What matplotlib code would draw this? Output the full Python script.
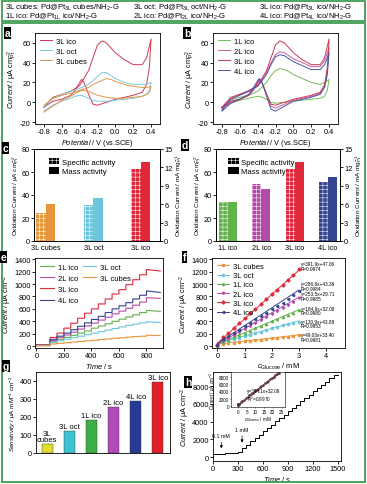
import matplotlib
matplotlib.use('Agg')
import matplotlib.pyplot as plt
import numpy as np
from matplotlib.patches import Rectangle, Patch
from matplotlib.lines import Line2D

plt.rcParams['font.family'] = ['Liberation Sans', 'DejaVu Sans']
plt.rcParams['font.size'] = 5.3
plt.rcParams['mathtext.fontset'] = 'custom'
plt.rcParams['mathtext.rm'] = 'Liberation Sans'
plt.rcParams['mathtext.it'] = 'Liberation Sans:italic'
plt.rcParams['mathtext.bf'] = 'Liberation Sans:bold'
plt.rcParams['axes.unicode_minus'] = False
plt.rcParams['axes.linewidth'] = 0.6
for a in ['xtick', 'ytick']:
    plt.rcParams[a + '.major.width'] = 0.6
    plt.rcParams[a + '.major.size'] = 2
    plt.rcParams[a + '.major.pad'] = 1.0
    plt.rcParams[a + '.labelsize'] = 5.3
plt.rcParams['hatch.linewidth'] = 0.35

# ---- data ----
# cyclic voltammograms (forward then reverse scan)
cv_E = [-0.8, -0.7, -0.6, -0.5, -0.4, -0.3, -0.25, -0.2, -0.15, -0.1, -0.05, 0.0, 0.1, 0.2, 0.3, 0.35, 0.4,
        0.38, 0.35, 0.3, 0.2, 0.1, 0.0, -0.1, -0.2, -0.25, -0.3, -0.35, -0.38, -0.4, -0.45, -0.5, -0.6, -0.7, -0.8]
cv_3L_ico = [-5, 5, 8, 11, 17, 32, 45, 58, 62, 60, 55, 50, 43, 38, 38, 45, 64,
             35, 18, 10, 7, 5, 3, 0, -3, -2, 8, 20, 23, 20, 12, 7, 3, 1, -5]
cv_3L_oct = [-5, 4, 8, 11, 14, 18, 22, 26, 30, 30, 27, 24, 20, 18, 18, 18, 20,
             12, 8, 6, 4, 3, 2, 1, 1, 2, 4, 6, 7, 7, 6, 4, 1, -3, -9]
cv_3L_cubes = [-3, 4, 7, 9, 12, 15, 18, 20, 22, 24, 23, 21, 18, 16, 15, 15, 16,
               10, 8, 6, 5, 4, 4, 5, 7, 9, 11, 12, 12, 11, 9, 6, 2, -4, -10]
cv_1L_ico = [-5, 2, 5, 7, 11, 20, 27, 32, 34, 33, 31, 28, 24, 20, 18, 20, 23,
             12, 6, 4, 3, 2, 1, 0, -1, 0, 3, 5, 6, 6, 5, 4, 2, -1, -5]
cv_2L_ico = [-6, 4, 8, 12, 17, 30, 40, 48, 51, 50, 47, 44, 40, 36, 36, 42, 55,
             30, 16, 9, 6, 4, 2, -2, -6, -4, 8, 19, 22, 20, 12, 7, 3, 0, -6]
cv_4L_ico = [-8, 3, 7, 11, 16, 28, 38, 46, 48, 47, 44, 41, 37, 33, 33, 38, 50,
             28, 15, 8, 5, 3, 1, -4, -9, -7, 6, 20, 24, 22, 14, 8, 3, -1, -9]

# activities
c_names = ['3L cubes', '3L oct', '3L ico']
c_specific = [24, 31, 63]
c_mass = [6.1, 7.0, 12.8]
d_names = ['1L ico', '2L ico', '3L ico', '4L ico']
d_specific = [34, 50, 63, 51]
d_mass = [6.4, 8.5, 12.8, 10.5]

# amperometric responses (0.2 mM additions)
e_times = [0, 100, 150, 200, 250, 300, 350, 400, 450, 500, 550, 600, 650, 700, 750, 800]
e_conc = [0, 0.2, 0.4, 0.6, 0.8, 1.0, 1.2, 1.4, 1.6, 1.8, 2.0, 2.2, 2.4, 2.6, 2.8, 3.0]
e_1L_ico = [10, 70, 105, 140, 175, 210, 245, 290, 325, 360, 400, 435, 470, 505, 540, 575]
e_2L_ico = [15, 90, 135, 180, 225, 275, 325, 370, 420, 465, 520, 565, 610, 660, 710, 780]
e_3L_ico = [20, 140, 210, 290, 370, 450, 530, 600, 680, 760, 840, 910, 990, 1070, 1150, 1235]
e_4L_ico = [15, 110, 160, 210, 265, 320, 375, 430, 480, 540, 600, 650, 700, 760, 820, 890]
e_3L_oct = [10, 60, 85, 110, 135, 160, 185, 210, 235, 260, 285, 310, 335, 355, 375, 395]
e_3L_cubes = [5, 35, 45, 55, 65, 75, 85, 95, 105, 115, 125, 135, 145, 155, 160, 175]
e_end = {'1L ico': 560, '2L ico': 770, '3L ico': 1210, '4L ico': 865, '3L oct': 380, '3L cubes': 170}

# linear fits shown in f
f_names = ['3L cubes', '3L oct', '1L ico', '2L ico', '3L ico', '4L ico']
f_slope = [49.03, 120.9, 184.9, 253.5, 391.9, 286.6]
f_icpt = [33.40, 43.89, 32.08, 29.71, 47.06, 43.36]
f_R = ['0.9981', '0.9953', '0.9980', '0.9985', '0.9974', '0.9984']

# sensitivities
g_names = ['3L\ncubes', '3L oct', '1L ico', '2L ico', '4L ico', '3L ico']
g_sens = [49, 121, 185, 253, 287, 392]

# long-range response of 3L ico
h_times = [0, 100, 150, 200, 250, 300, 350, 400, 450, 500, 550, 600, 650, 700, 750, 800, 850, 900,
           950, 1000, 1050, 1100, 1150, 1200, 1250, 1300, 1350, 1400, 1450]
h_conc = [0, 0.1, 0.2, 0.3, 0.4, 0.5, 1.5, 2.5, 3.5, 4.5, 5.5, 6.5, 7.5, 8.5, 9.5, 10.5, 11.5, 12.5,
          13.5, 14.5, 15.5, 16.5, 17.5, 18.5, 19.5, 20.5, 21.5, 22.5, 23.5]
h_levels = [350, 390, 420, 460, 500, 540, 1000, 1380, 1760, 2140, 2520, 2890, 3270, 3650, 4020, 4400,
            4780, 5150, 5530, 5900, 6280, 6650, 7030, 7400, 7780, 8150, 8520, 8900, 9250]

col = {'3L cubes': '#e8963a', '3L oct': '#6cc6dc', '3L ico': '#e02a3c', '1L ico': '#62b24a',
       '2L ico': '#b44aa8', '4L ico': '#34448e'}
col_cv = {'3L ico': '#d23a55', '3L oct': '#7cc8e0', '3L cubes': '#e09848', '1L ico': '#78bc58',
          '2L ico': '#cc5c9c', '4L ico': '#4a54a8'}
g_colors = ['#e4dc2c', '#3cc4d4', '#3cae44', '#b04cb8', '#263a96', '#e02026']

W, H = 367, 485
fig = plt.figure(figsize=(W / 100, H / 100), dpi=100)


def add_ax(l, t, r, b):
    return fig.add_axes([l / W, 1 - b / H, (r - l) / W, (b - t) / H])


def tag(x, y, s):
    fig.text(x / W, 1 - y / H, s, color='white', fontsize=7.5, fontweight='bold', ha='left', va='top',
             bbox=dict(facecolor='black', edgecolor='none', pad=0.5))


def stairs(times, levels, t_end, end_level):
    xs, ys = [], []
    for i in range(len(times)):
        xs.append(times[i])
        ys.append(levels[i])
        if i + 1 < len(times):
            xs.append(times[i + 1])
            ys.append(levels[i])
    xs.append(t_end)
    ys.append(end_level)
    return xs, ys


cur_pt = r'$\it{Current}$ / μA cm$^{-2}_{\rm Pt}$'
pot_lab = r'$\it{Potential}$ / V (vs.SCE)'

# frames and header
fig.patches.append(Rectangle((2 / W, 1 - 22 / H), 363 / W, 20 / H, transform=fig.transFigure,
                             fill=False, edgecolor='#3f9d52', lw=1.3))
fig.patches.append(Rectangle((2 / W, 1 - 483 / H), 363 / W, 459 / H, transform=fig.transFigure,
                             fill=False, edgecolor='#3f9d52', lw=1.3))
hdr = [(5, 8, r'3L cubes: Pd@Pt$_{\rm 3L}$ cubes/NH$_2$-G'),
       (133, 8, r'3L oct: Pd@Pt$_{\rm 3L}$ oct/NH$_2$-G'),
       (259, 8, r'3L ico: Pd@Pt$_{\rm 3L}$ ico/NH$_2$-G'),
       (5, 17, r'1L ico: Pd@Pt$_{\rm 1L}$ ico/NH$_2$-G'),
       (133, 17, r'2L ico: Pd@Pt$_{\rm 2L}$ ico/NH$_2$-G'),
       (259, 17, r'4L ico: Pd@Pt$_{\rm 4L}$ ico/NH$_2$-G')]
for x, y, s in hdr:
    fig.text(x / W, 1 - y / H, s, fontsize=5.5, ha='left', va='center')

# ---- a ----
ax = add_ax(35, 34, 160, 125)
for name, vals in [('3L ico', cv_3L_ico), ('3L oct', cv_3L_oct), ('3L cubes', cv_3L_cubes)]:
    ax.plot(cv_E, vals, color=col_cv[name], lw=0.7, label=name)
ax.set_xlim(-0.9, 0.5)
ax.set_ylim(-22, 70)
ax.set_xticks([-0.8, -0.6, -0.4, -0.2, 0.0, 0.2, 0.4])
ax.set_yticks([-20, 0, 20, 40, 60])
ax.set_xlabel(pot_lab, labelpad=1)
ax.set_ylabel(cur_pt, labelpad=1)
ax.legend(loc='upper left', frameon=False, handlelength=1.6, handletextpad=0.5, labelspacing=0.35,
          borderaxespad=0.2, fontsize=5.5)
tag(5, 29, 'a')

# ---- b ----
ax = add_ax(213, 34, 338, 125)
for name, vals in [('1L ico', cv_1L_ico), ('2L ico', cv_2L_ico), ('3L ico', cv_3L_ico), ('4L ico', cv_4L_ico)]:
    ax.plot(cv_E, vals, color=col_cv[name], lw=0.7, label=name)
ax.set_xlim(-0.9, 0.5)
ax.set_ylim(-22, 70)
ax.set_xticks([-0.8, -0.6, -0.4, -0.2, 0.0, 0.2, 0.4])
ax.set_yticks([-20, 0, 20, 40, 60])
ax.set_xlabel(pot_lab, labelpad=1)
ax.set_ylabel(cur_pt, labelpad=1)
ax.legend(loc='upper left', frameon=False, handlelength=1.6, handletextpad=0.5, labelspacing=0.35,
          borderaxespad=0.2, fontsize=5.5)
tag(184, 29, 'b')


# ---- c, d ----
def activity(box, names, spec, mass, xlim, w, letter, lpos):
    ax = add_ax(*box)
    ax2 = ax.twinx()
    x = np.arange(len(names))
    for i, n in enumerate(names):
        ax.bar(x[i] - w / 2, spec[i], w, color=col[n], edgecolor='white', hatch='++++', lw=0)
        ax2.bar(x[i] + w / 2, mass[i], w, color=col[n], lw=0)
    ax.set_xlim(*xlim)
    ax.set_ylim(0, 80)
    ax2.set_ylim(0, 15)
    ax.set_yticks([0, 20, 40, 60, 80])
    ax2.set_yticks([0, 3, 6, 9, 12, 15])
    ax.set_xticks(x)
    ax.set_xticklabels(names)
    ax.tick_params(axis='x', length=0, pad=2)
    ax.set_ylabel(r'Oxidation Current / μA cm$^{-2}_{\rm Pt}$', labelpad=0.3, fontsize=4.6)
    ax2.set_ylabel(r'Oxidation Current / mA mg$^{-1}_{\rm Pt}$', labelpad=0.3, fontsize=4.6)
    hs = [Patch(facecolor='black', edgecolor='white', hatch='++++', lw=0),
          Patch(facecolor='black', lw=0)]
    ax.legend(hs, ['Specific activity', 'Mass activity'], loc='upper left', bbox_to_anchor=lpos,
              frameon=False, handlelength=1.4, handleheight=0.9, handletextpad=0.3, labelspacing=0.2,
              fontsize=5.6)
    tag(letter[1], letter[2], letter[0])


activity((34, 150, 160, 242), c_names, c_specific, c_mass, (-0.25, 2.4), 0.2, ('c', 3, 144), (0.06, 0.98))
activity((216, 150, 340, 242), d_names, d_specific, d_mass, (-0.36, 3.36), 0.27, ('d', 182, 141), (0.04, 0.98))

# ---- e ----
ax = add_ax(35, 259, 163, 349)
e_series = [('1L ico', e_1L_ico), ('2L ico', e_2L_ico), ('3L ico', e_3L_ico), ('4L ico', e_4L_ico),
            ('3L oct', e_3L_oct), ('3L cubes', e_3L_cubes)]
hl = []
for name, vals in e_series:
    xs, ys = stairs(e_times, vals, 900, e_end[name])
    hl += ax.plot(xs, ys, color=col[name], lw=0.8, label=name)
ax.set_xlim(-10, 920)
ax.set_ylim(-30, 1420)
ax.set_xticks([0, 200, 400, 600, 800])
ax.set_yticks(range(0, 1401, 200))
ax.set_xlabel(r'$\it{Time}$ / s', labelpad=1)
ax.set_ylabel(r'$\it{Current}$ / μA cm$^{-2}$', labelpad=0.5)
leg1 = ax.legend(hl[:4], [s[0] for s in e_series[:4]], loc='upper left', frameon=False, handlelength=1.8,
                 handletextpad=0.5, labelspacing=0.5, borderaxespad=0.3, fontsize=5.5)
ax.add_artist(leg1)
ax.legend(hl[4:], [s[0] for s in e_series[4:]], loc='upper left', bbox_to_anchor=(0.33, 1.0),
          frameon=False, handlelength=1.8, handletextpad=0.5, labelspacing=0.5, borderaxespad=0.3,
          fontsize=5.5)
tag(1, 253, 'e')

# ---- f ----
ax = add_ax(212, 259, 345, 349)
f_vals = {'1L ico': e_1L_ico, '2L ico': e_2L_ico, '3L ico': e_3L_ico, '4L ico': e_4L_ico,
          '3L oct': e_3L_oct, '3L cubes': e_3L_cubes}
markers = ['s', 'o', '^', 'v', 'D', '<']
f_text_y = [223, 445, 652, 890, 1367, 1050]
cfit = np.array([0, 3.0])
for i, name in enumerate(f_names):
    ax.plot(cfit, f_slope[i] * cfit + f_icpt[i], color=col[name], lw=0.7)
    ax.plot(e_conc, f_vals[name], ls='none', marker=markers[i], ms=1.6, mfc=col[name], mec=col[name])
    ax.text(3.07, f_text_y[i], 'y=%gx+%.2f\nR=%s' % (f_slope[i], f_icpt[i], f_R[i]), fontsize=3.4,
            va='top', ha='left', linespacing=0.95)
hs = [Line2D([], [], color=col[n], lw=0.7, marker=markers[i], ms=1.6) for i, n in enumerate(f_names)]
ax.legend(hs, f_names, loc='upper left', frameon=False, handlelength=1.6, handletextpad=0.5,
          labelspacing=0.25, borderaxespad=0.2, fontsize=5.5)
ax.set_xlim(-0.2, 4.7)
ax.set_ylim(-30, 1420)
ax.set_xticks([0, 1, 2, 3, 4])
ax.set_yticks(range(0, 1401, 200))
ax.set_xlabel(r'$c_{\rm Glucose}$ / mM', labelpad=1)
ax.set_ylabel(r'$\it{Current}$ / μA cm$^{-2}$', labelpad=0.5)
tag(183, 253, 'f')

# ---- g ----
ax = add_ax(36, 373, 170, 454)
for i, v in enumerate(g_sens):
    ax.bar(i, v, 0.5, color=g_colors[i], edgecolor='#333333', lw=0.3)
    ax.text(i, v + 6, g_names[i], ha='center', va='bottom', fontsize=5.5, linespacing=0.9)
ax.set_xlim(-0.5, 5.55)
ax.set_ylim(0, 450)
ax.set_xticks([])
ax.set_yticks([0, 100, 200, 300, 400])
ax.set_ylabel(r'$\it{Sensitivity}$ / μA mM$^{-1}$ cm$^{-2}$', labelpad=1, fontsize=4.6)
tag(3, 362, 'g')

# ---- h ----
ax = add_ax(213, 373, 341, 462)
xs, ys = stairs(h_times, h_levels, 1500, h_levels[-1])
ax.plot(xs, ys, color='black', lw=0.7)
ax.set_xlim(0, 1540)
ax.set_ylim(-450, 9600)
ax.set_xticks([0, 300, 600, 900, 1200, 1500])
ax.set_yticks([0, 2000, 4000, 6000, 8000])
ax.set_xlabel(r'$\it{Time}$ / s', labelpad=1)
ax.set_ylabel(r'$\it{Current}$ / μA cm$^{-2}$', labelpad=0.5)
ap = dict(arrowstyle='-|>', lw=0.5, color='black', mutation_scale=4)
ax.annotate('', xy=(100, 650), xytext=(100, 2000), arrowprops=ap)
ax.text(100, 2150, '0.1 mM', fontsize=3.8, ha='center', va='bottom')
ax.annotate('', xy=(350, 1300), xytext=(350, 2700), arrowprops=ap)
ax.text(350, 2850, '1 mM', fontsize=3.8, ha='center', va='bottom')
tag(185, 378, 'h')

ins = add_ax(231, 373, 285, 408)
ins.plot(h_conc, h_levels, ls='none', marker='s', ms=0.8, color='#333333')
cl = np.array([0, 25])
ins.plot(cl, 394.1 * cl + 32.09, color='#b03040', lw=0.5)
ins.set_xlim(-4, 27)
ins.set_ylim(-300, 9400)
ins.set_xticks([0, 5, 10, 15, 20, 25])
ins.set_yticks([0, 2000, 4000, 6000, 8000])
ins.tick_params(labelsize=3.3, length=1, pad=0.5, width=0.4)
for s in ins.spines.values():
    s.set_linewidth(0.4)
ins.set_xlabel(r'$c_{\rm Glucose}$ / mM', fontsize=3.3, labelpad=0.3)
ins.set_ylabel(r'$\it{Current}$ / μA cm$^{-2}$', fontsize=3.3, labelpad=0.3)
ins.text(5, 1500, 'y=394.1x+32.09\nR$^2$=0.9970', fontsize=3.3, linespacing=1.0)

fig.savefig('out.png', dpi=100)
